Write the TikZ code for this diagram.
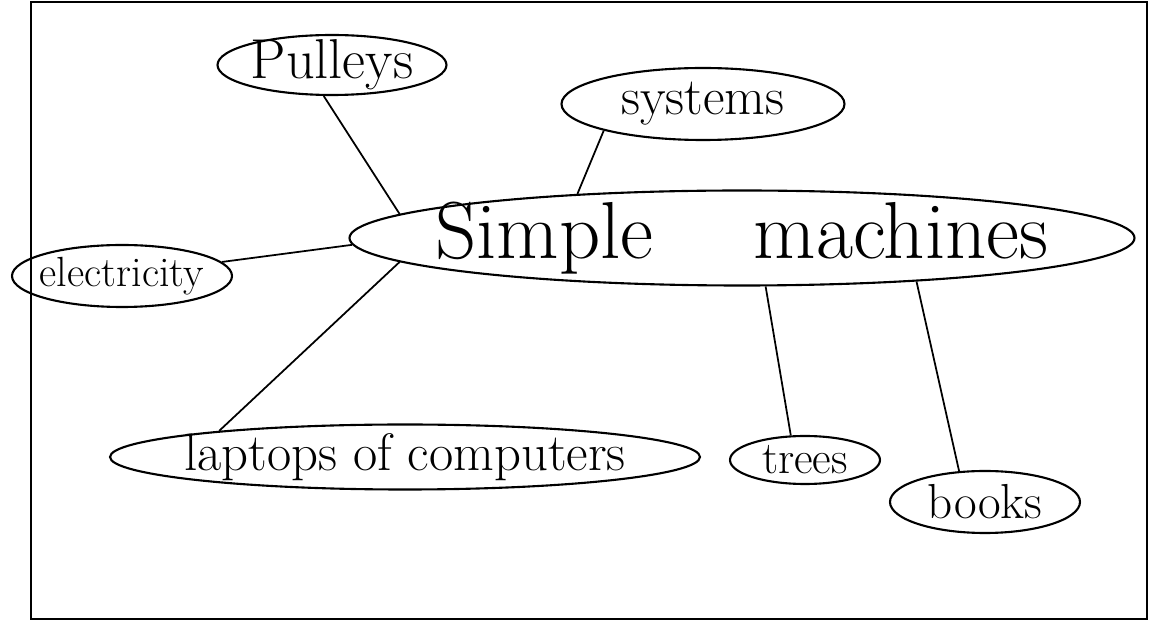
\documentclass[tikz,border=0pt]{standalone}
\usepackage{tikz}
\usetikzlibrary{shapes.geometric}
\tikzset{
  cmbub/.style={draw, ellipse, line width=1.2pt, inner sep=0pt},
  cmword/.style={inner sep=0pt},
  cmlink/.style={line width=1pt},
}
\newcommand{\cmsize}[1]{\fontsize{#1}{#1}\selectfont}
\newcommand{\cmbubble}[6]{%
  \node[cmbub, minimum width=#3, minimum height=#4] (#1) at (#2) {};
  \node[cmword, font=\cmsize{#5}] (#1-txt) at (#1) {#6};}

\begin{document}
\begin{tikzpicture}
  \useasboundingbox (0,0) rectangle (23.02,-12.42);
  \draw[line width=1.1pt] (0.62,-0.04) rectangle (22.94,-12.38);

  \cmbubble{main}{14.84,-4.76}{15.7cm}{1.9cm}{46pt}{Simple\hspace{2cm}machines}
  \cmbubble{pul}{6.64,-1.30}{4.58cm}{1.2cm}{32pt}{Pulleys}
  \cmbubble{sys}{14.06,-2.08}{5.66cm}{1.44cm}{30pt}{systems}
  \cmbubble{elec}{2.44,-5.52}{4.4cm}{1.24cm}{24pt}{electricity}
  \cmbubble{lap}{8.10,-9.14}{11.8cm}{1.3cm}{30pt}{laptops of computers}
  \cmbubble{tree}{16.10,-9.20}{3.0cm}{0.96cm}{26pt}{trees}
  \cmbubble{book}{19.70,-10.04}{3.8cm}{1.24cm}{28pt}{books}

  \draw[cmlink] (pul.-105) -- (main.176);
  \draw[cmlink] (sys.-165) -- (main.165);
  \draw[cmlink] (elec.8) -- (main.181);
  \draw[cmlink] (lap.172) -- (main.184);
  \draw[cmlink] (tree.120) -- (main.-64);
  \draw[cmlink] (book.130) -- (main.-14);
\end{tikzpicture}
\end{document}
